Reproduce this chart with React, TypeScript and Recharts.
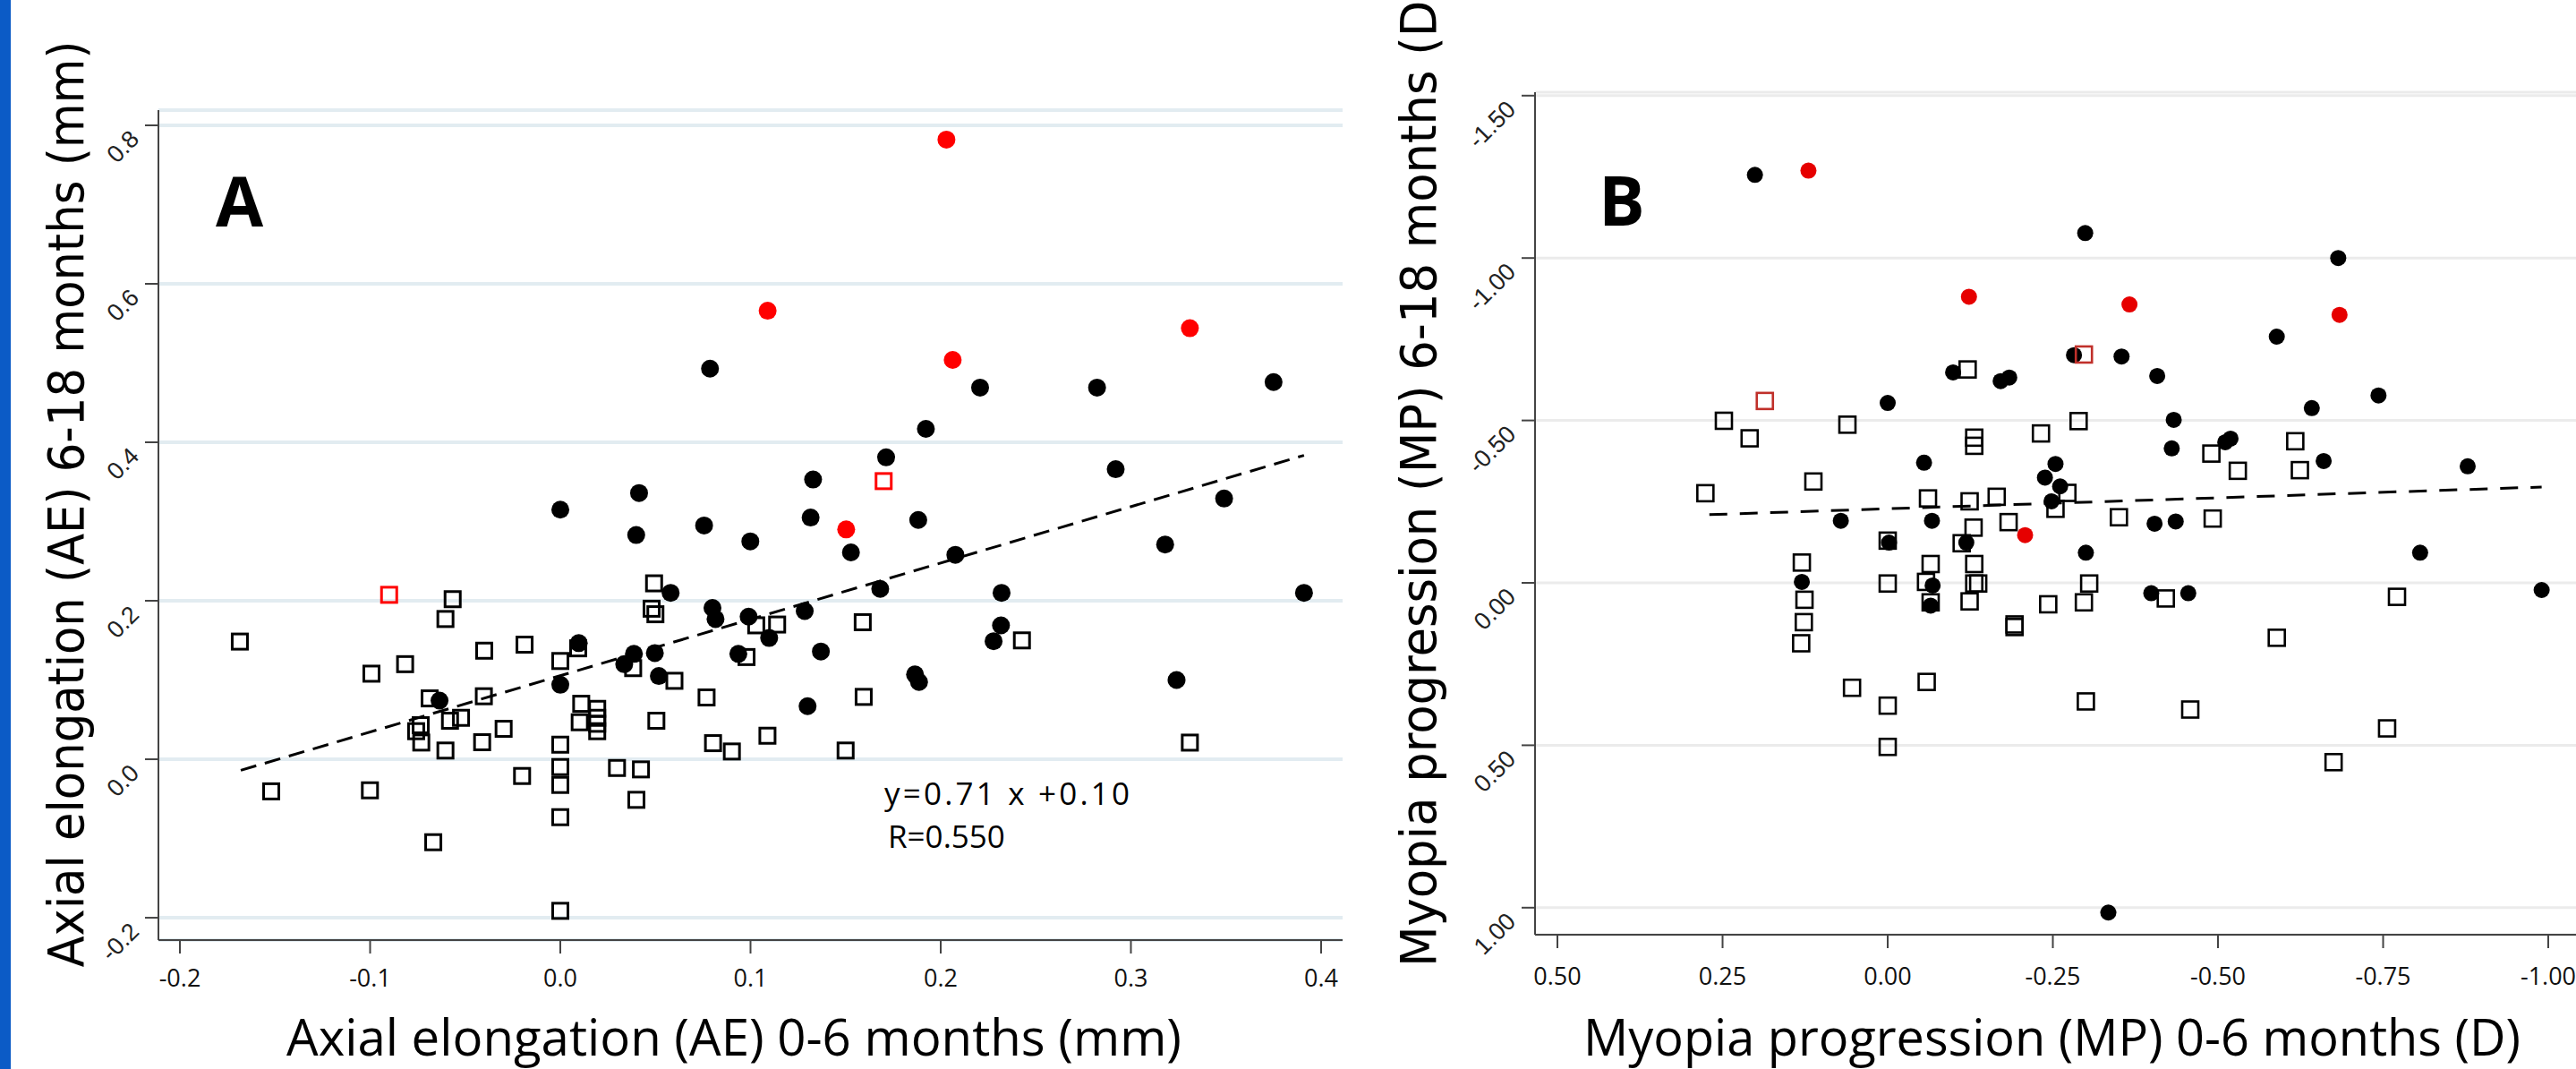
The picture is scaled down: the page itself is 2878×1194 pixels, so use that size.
import React from 'react';
import { ScatterChart, Scatter, XAxis, YAxis, CartesianGrid, ReferenceLine } from 'recharts';

// Panel A: axial elongation (mm), [0-6 months, 6-18 months]
const aFilled: [number, number][] = [
  [0.0787, 0.493], [0.2207, 0.469], [0.2822, 0.469], [0.375, 0.476], [0.1922, 0.417],
  [0.1713, 0.381], [0.292, 0.366], [0.1329, 0.353], [0.349, 0.329], [0.0414, 0.336],
  [0.0, 0.315], [0.1316, 0.305], [0.1882, 0.302], [0.0756, 0.295], [0.0399, 0.283],
  [0.0999, 0.275], [0.318, 0.271], [0.1528, 0.261], [0.2077, 0.258], [0.1682, 0.215],
  [0.232, 0.21], [0.391, 0.21], [0.058, 0.21], [0.08, 0.191], [0.0816, 0.177],
  [0.099, 0.18], [0.1285, 0.187], [0.2317, 0.169], [0.1098, 0.153], [0.2278, 0.149],
  [0.0097, 0.1465], [0.137, 0.136], [0.0936, 0.133], [0.0387, 0.133], [0.0497, 0.134],
  [0.0336, 0.12], [0.0518, 0.105], [0.1865, 0.107], [0.1886, 0.0975], [0.324, 0.1],
  [0.0, 0.094], [-0.0635, 0.074], [0.13, 0.067],
];
const aRedFilled: [number, number][] = [
  [0.203, 0.782], [0.109, 0.566], [0.331, 0.544], [0.2063, 0.504], [0.1503, 0.29],
];
const aOpen: [number, number][] = [
  [-0.1685, 0.1485], [-0.0566, 0.202], [-0.0604, 0.177], [0.0493, 0.222], [0.048, 0.19],
  [0.05, 0.183], [0.103, 0.169], [0.114, 0.17], [0.159, 0.173], [0.2427, 0.15],
  [-0.0993, 0.108], [-0.0816, 0.12], [-0.04, 0.137], [-0.0188, 0.1446], [0.0094, 0.14],
  [0.0, 0.124], [0.0383, 0.115], [0.06, 0.099], [0.0979, 0.129], [0.0769, 0.078],
  [0.1595, 0.0787], [-0.0402, 0.0795], [-0.0687, 0.0768], [-0.058, 0.0486], [-0.0522, 0.0523],
  [-0.0734, 0.043], [-0.0758, 0.0354], [-0.0731, 0.0211], [-0.0604, 0.011], [-0.0298, 0.0384],
  [-0.0411, 0.0215], [0.011, 0.07], [0.0194, 0.0636], [0.0102, 0.0467], [0.0194, 0.0523],
  [0.0194, 0.0448], [0.0194, 0.0354], [0.0505, 0.0486], [0.0803, 0.0203], [0.0902, 0.0098],
  [0.1089, 0.0297], [0.15, 0.011], [0.331, 0.021], [0.0, 0.0184], [0.0, -0.0098],
  [0.0, -0.0324], [-0.0201, -0.0211], [0.0298, -0.011], [0.0424, -0.0128], [0.04, -0.0512],
  [0.0, -0.0731], [-0.1001, -0.0392], [-0.152, -0.0405], [-0.0668, -0.1047], [0.0, -0.1913],
];
const aRedOpen: [number, number][] = [[-0.09, 0.2075], [0.17, 0.351]];
const aFit: [number, number][] = [[-0.168, -0.014], [0.391, 0.3835]];
const aXTicks = [-0.2, -0.1, 0, 0.1, 0.2, 0.3, 0.4];
const aYTicks = [-0.2, 0, 0.2, 0.4, 0.6, 0.8];

// Panel B: myopia progression (D), [0-6 months, 6-18 months]
const bFilled: [number, number][] = [
  [0.201, -1.256], [-0.299, -1.077], [-0.682, -1.0], [-0.589, -0.758], [-0.282, -0.701],
  [-0.354, -0.697], [-0.099, -0.648], [-0.171, -0.621], [-0.184, -0.632], [-0.408, -0.637],
  [-0.743, -0.577], [0.0, -0.554], [-0.642, -0.538], [-0.433, -0.502], [-0.519, -0.444],
  [-0.511, -0.433], [-0.43, -0.414], [-0.66, -0.375], [-0.055, -0.37], [-0.254, -0.366],
  [-0.878, -0.359], [-0.238, -0.324], [-0.261, -0.297], [-0.248, -0.251], [0.071, -0.191],
  [-0.067, -0.191], [-0.404, -0.182], [-0.436, -0.189], [-0.002, -0.124], [-0.119, -0.124],
  [-0.3, -0.093], [-0.806, -0.093], [0.13, -0.003], [-0.068, 0.008], [-0.399, 0.032],
  [-0.455, 0.032], [-0.99, 0.022], [-0.065, 0.07], [-0.334, 1.015],
];
const bRedFilled: [number, number][] = [
  [0.12, -1.269], [-0.123, -0.881], [-0.366, -0.857], [-0.684, -0.825], [-0.208, -0.147],
];
const bOpen: [number, number][] = [
  [-0.121, -0.657], [0.248, -0.499], [-0.289, -0.498], [0.061, -0.487], [-0.232, -0.46],
  [0.209, -0.445], [-0.131, -0.447], [-0.131, -0.422], [-0.617, -0.436], [-0.49, -0.398],
  [-0.53, -0.345], [-0.624, -0.347], [0.1125, -0.312], [0.276, -0.276], [-0.272, -0.277],
  [-0.061, -0.26], [-0.165, -0.265], [-0.124, -0.251], [-0.254, -0.228], [-0.35, -0.202],
  [-0.492, -0.198], [-0.13, -0.17], [-0.183, -0.187], [0.0, -0.13], [-0.112, -0.122],
  [0.13, -0.0625], [-0.065, -0.058], [-0.131, -0.058], [0.0, 0.002], [-0.058, -0.003],
  [-0.131, 0.002], [-0.137, 0.002], [-0.305, 0.002], [0.126, 0.052], [-0.065, 0.06],
  [-0.124, 0.057], [-0.243, 0.066], [-0.297, 0.06], [-0.421, 0.048], [-0.771, 0.043],
  [0.127, 0.121], [0.131, 0.186], [-0.192, 0.128], [-0.192, 0.136], [-0.589, 0.169],
  [0.054, 0.323], [-0.059, 0.305], [0.0, 0.378], [-0.3, 0.365], [-0.458, 0.39],
  [-0.756, 0.448], [0.0, 0.505], [-0.675, 0.552],
];
const bRedOpen: [number, number][] = [[0.186, -0.56], [-0.297, -0.703]];
const bFit: [number, number][] = [[0.27, -0.21], [-0.99, -0.295]];
const bXTicks = [0.5, 0.25, 0, -0.25, -0.5, -0.75, -1];
const bYTicks = [-1.5, -1, -0.5, 0, 0.5, 1];

const pts = (arr: [number, number][]) => arr.map(([x, y]) => ({ x, y }));

const SANS = "'Open Sans', sans-serif";
const TITLE = "'DejaVu Sans', Verdana, sans-serif";
const ARIAL = "'Liberation Sans', Arial, sans-serif";

const dot = (fill: string, r: number) => (p: any) => <circle cx={p.cx} cy={p.cy} r={r} fill={fill} />;
const box = (stroke: string, s: number, w: number) => (p: any) => (
  <rect x={p.cx - s / 2} y={p.cy - s / 2} width={s} height={s} fill="none" stroke={stroke} strokeWidth={w} />
);

const xTick = (digits: number, dy: number) => (p: any) => (
  <text x={p.x} y={p.y + dy} textAnchor="middle" fontFamily={SANS} fontSize={27} fill="#111">
    {Number(p.payload.value).toFixed(digits)}
  </text>
);

// y tick labels are slanted at 45 degrees, ending near the tick
const yTick = (digits: number) => (p: any) => {
  const x = p.x - 3;
  const y = p.y + 17;
  return (
    <text x={x} y={y} transform={`rotate(-45 ${x} ${y})`} textAnchor="end" fontFamily={ARIAL} fontSize={27} fill="#222">
      {Number(p.payload.value).toFixed(digits)}
    </text>
  );
};

const textsA = () => (
  <g>
    <text transform="translate(93 563) rotate(-90)" textAnchor="middle" fontFamily={TITLE} fontSize={56}
      textLength={1035} lengthAdjust="spacingAndGlyphs" fill="#000">
      Axial elongation (AE) 6-18 months (mm)
    </text>
    <text x={320} y={1179} fontFamily={SANS} fontSize={56} textLength={1000} lengthAdjust="spacingAndGlyphs" fill="#000">
      Axial elongation (AE) 0-6 months (mm)
    </text>
    <text x={241} y={253} fontFamily={SANS} fontWeight="bold" fontSize={77} fill="#000">A</text>
    <text x={988} y={899} fontFamily={SANS} fontSize={35} textLength={274} lengthAdjust="spacing" fill="#000">
      y=0.71 x +0.10
    </text>
    <text x={992} y={947} fontFamily={SANS} fontSize={35} fill="#000">R=0.550</text>
  </g>
);

// the reference crops the end of this title at the top edge
const textsB = () => (
  <g>
    <text transform="translate(124 530) rotate(-90)" textAnchor="middle" fontFamily={TITLE} fontSize={56}
      textLength={1100} lengthAdjust="spacingAndGlyphs" fill="#000">
      Myopia progression (MP) 6-18 months (D)
    </text>
    <text x={289} y={1179} fontFamily={SANS} fontSize={56} textLength={1047} lengthAdjust="spacingAndGlyphs" fill="#000">
      Myopia progression (MP) 0-6 months (D)
    </text>
    <text x={306} y={252} fontFamily={SANS} fontWeight="bold" fontSize={77} fill="#000">B</text>
  </g>
);

const axisStyle = { stroke: '#444', strokeWidth: 2 };

export default function App() {
  return (
    <div style={{ position: 'absolute', left: 0, top: 0, width: 2878, height: 1194, overflow: 'hidden', background: '#fff' }}>
      <div style={{ position: 'absolute', left: 0, top: 0, width: 12, height: 1194, background: '#0b5bc6' }} />

      <div style={{ position: 'absolute', left: 0, top: 0 }}>
        <ScatterChart width={1540} height={1194} margin={{ top: 123, right: 40, bottom: 0, left: 0 }}>
          <CartesianGrid vertical={false} stroke="#e2ecf1" strokeWidth={4} />
          <XAxis type="number" dataKey="x" domain={[-0.2113, 0.4113]} ticks={aXTicks} allowDataOverflow
            height={144} tickSize={15} axisLine={axisStyle} tickLine={axisStyle} tick={xTick(1, 35)} />
          <YAxis type="number" dataKey="y" domain={[-0.2282, 0.8192]} ticks={aYTicks} allowDataOverflow
            width={177} tickSize={15} axisLine={axisStyle} tickLine={axisStyle} tick={yTick(1)}
            label={{ content: textsA }} />
          <ReferenceLine segment={pts(aFit)} stroke="#000" strokeWidth={3} strokeDasharray="18 10" />
          <Scatter data={pts(aFilled)} shape={dot('#000', 10)} isAnimationActive={false} />
          <Scatter data={pts(aRedFilled)} shape={dot('#ff0000', 10)} isAnimationActive={false} />
          <Scatter data={pts(aOpen)} shape={box('#000', 17, 3)} isAnimationActive={false} />
          <Scatter data={pts(aRedOpen)} shape={box('#ff0000', 17, 3)} isAnimationActive={false} />
        </ScatterChart>
      </div>

      <div style={{ position: 'absolute', left: 1480, top: 0 }}>
        <ScatterChart width={1480} height={1194} margin={{ top: 103, right: 40, bottom: 0, left: 0 }}>
          <CartesianGrid vertical={false} stroke="#ebebeb" strokeWidth={3} />
          <XAxis type="number" dataKey="x" domain={[-1.0989, 0.5339]} reversed ticks={bXTicks} allowDataOverflow
            height={150} tickSize={15} axisLine={axisStyle} tickLine={axisStyle} tick={xTick(2, 39)} />
          <YAxis type="number" dataKey="y" domain={[-1.5105, 1.0832]} reversed ticks={bYTicks} allowDataOverflow
            width={235} tickSize={15} axisLine={axisStyle} tickLine={axisStyle} tick={yTick(2)}
            label={{ content: textsB }} />
          <ReferenceLine segment={pts(bFit)} stroke="#000" strokeWidth={3} strokeDasharray="20 14" />
          <Scatter data={pts(bFilled)} shape={dot('#000', 9)} isAnimationActive={false} />
          <Scatter data={pts(bRedFilled)} shape={dot('#e60000', 9)} isAnimationActive={false} />
          <Scatter data={pts(bOpen)} shape={box('#000', 18, 2.6)} isAnimationActive={false} />
          <Scatter data={pts(bRedOpen)} shape={box('#c0302a', 18, 2.6)} isAnimationActive={false} />
        </ScatterChart>
      </div>
    </div>
  );
}
